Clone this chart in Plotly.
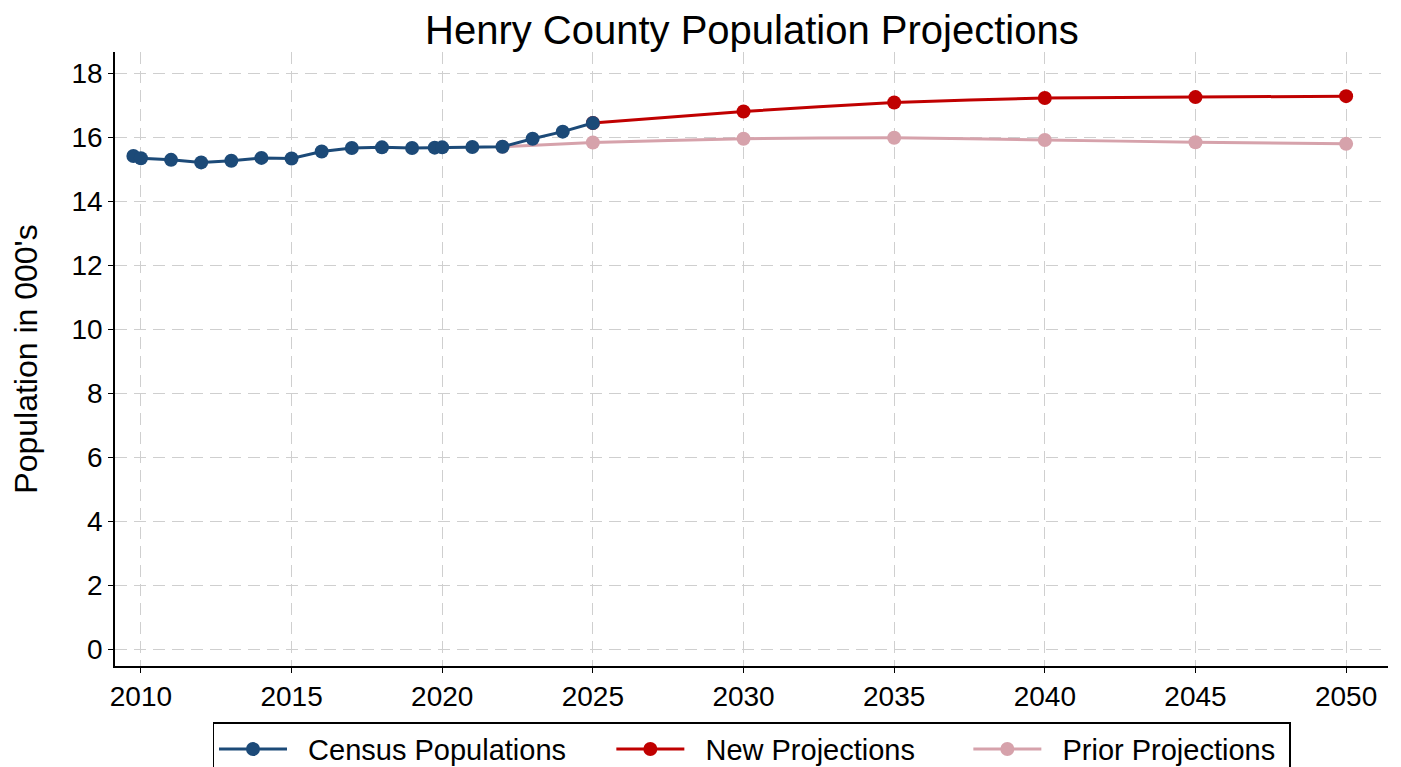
import plotly.graph_objects as go

# Census estimates (thousands); 2009.75 / 2019.75 are the April census counts
census_years = [2009.75, 2010, 2011, 2012, 2013, 2014, 2015, 2016, 2017, 2018, 2019,
                2019.75, 2020, 2021, 2022, 2023, 2024, 2025]
census_pop = [15.41, 15.34, 15.29, 15.21, 15.26, 15.35, 15.33, 15.55, 15.66, 15.68, 15.66,
              15.67, 15.68, 15.69, 15.70, 15.95, 16.17, 16.44]

new_years = [2025, 2030, 2035, 2040, 2045, 2050]
new_pop = [16.44, 16.80, 17.08, 17.22, 17.25, 17.28]

prior_years = [2022, 2025, 2030, 2035, 2040, 2045, 2050]
prior_pop = [15.70, 15.83, 15.95, 15.98, 15.91, 15.84, 15.79]

x_ticks = [2010, 2015, 2020, 2025, 2030, 2035, 2040, 2045, 2050]
y_ticks = [0, 2, 4, 6, 8, 10, 12, 14, 16, 18]

blue = '#1c4a78'
red = '#c00000'
pink = '#d6a2ab'
nb = '\u00a0'  # spacing inside legend entries

fig = go.Figure()
# draw order: prior under, census on top
fig.add_trace(go.Scatter(x=prior_years, y=prior_pop, name=nb * 2 + 'Prior Projections' + nb,
                         mode='lines+markers', line=dict(color=pink, width=3, shape='spline', smoothing=0.4),
                         marker=dict(color=pink, size=14), legendrank=3))
fig.add_trace(go.Scatter(x=new_years, y=new_pop, name=nb * 2 + 'New Projections' + nb * 6,
                         mode='lines+markers', line=dict(color=red, width=3, shape='spline', smoothing=0.4),
                         marker=dict(color=red, size=14), legendrank=2))
fig.add_trace(go.Scatter(x=census_years, y=census_pop, name=nb * 2 + 'Census Populations' + nb * 5,
                         mode='lines+markers', line=dict(color=blue, width=3),
                         marker=dict(color=blue, size=14), legendrank=1))

fig.update_xaxes(range=[2009.14, 2051.39], tickvals=x_ticks,
                 showline=True, linecolor='black', linewidth=1.5,
                 ticks='outside', ticklen=5, tickcolor='black',
                 showgrid=True, gridcolor='#cfcfcf', gridwidth=1, griddash='12px,7px',
                 zeroline=False, tickfont=dict(size=28, color='black'), automargin=False)
fig.update_yaxes(range=[-0.53, 18.66], tickvals=y_ticks,
                 showline=True, linecolor='black', linewidth=1.5,
                 ticks='outside', ticklen=5, tickcolor='black',
                 showgrid=True, gridcolor='#cfcfcf', gridwidth=1, griddash='12px,7px',
                 zeroline=False, tickfont=dict(size=28, color='black'), automargin=False,
                 title=dict(text="Population in 000's", font=dict(size=32, color='black'), standoff=26))

# page body has an 8px margin, so size and offsets are reduced by 8
fig.update_layout(
    title=dict(text='Henry County Population Projections', x=0.534, xanchor='center',
               y=0.971, yanchor='middle', font=dict(size=40, color='black')),
    font=dict(family='Liberation Sans, Arial, sans-serif', color='black'),
    plot_bgcolor='white', paper_bgcolor='white',
    width=1393, height=759,
    margin=dict(l=107, r=13, t=44, b=101),
    legend=dict(orientation='h', x=0.5, xanchor='center', yref='container', y=0.059, yanchor='top',
                bordercolor='black', borderwidth=1.5, itemwidth=68,
                font=dict(size=29, color='black'), traceorder='normal'),
)

fig.write_html("out.html")
